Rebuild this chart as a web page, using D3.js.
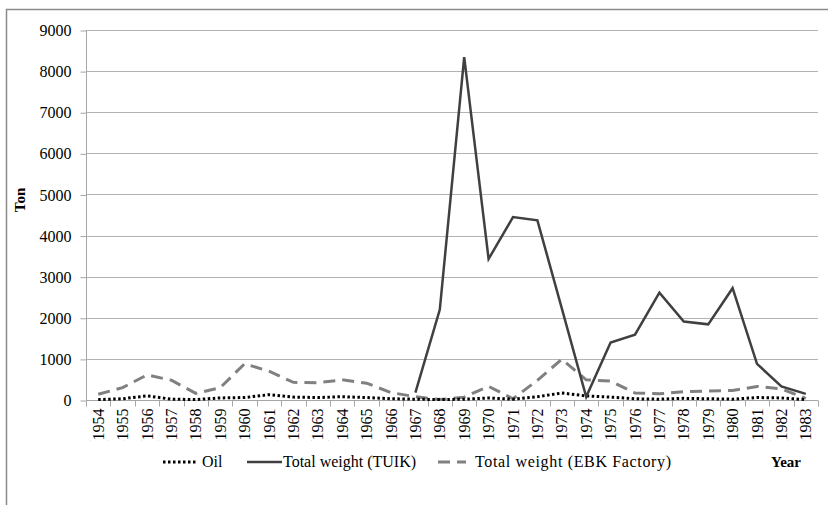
<!DOCTYPE html>
<html>
<head>
<meta charset="utf-8">
<script src="https://cdn.jsdelivr.net/npm/d3@7/dist/d3.min.js"></script>
<style>
  body { margin: 0; background: #fff; }
  svg { display: block; }
  svg text { font-family: 'Liberation Serif', 'Times New Roman', Times, 'DejaVu Serif', serif; }
</style>
</head>
<body>
<script>

var years = [1954, 1955, 1956, 1957, 1958, 1959, 1960, 1961, 1962, 1963,
             1964, 1965, 1966, 1967, 1968, 1969, 1970, 1971, 1972, 1973,
             1974, 1975, 1976, 1977, 1978, 1979, 1980, 1981, 1982, 1983];

var oil = [10, 30, 100, 20, 10, 50, 60, 130, 70, 60,
           80, 60, 30, 20, 10, 20, 50, 20, 80, 170,
           100, 70, 30, 20, 40, 30, 20, 60, 50, 10];

// TUIK series only starts in 1967
var tuik = [null, null, null, null, null, null, null, null, null, null,
            null, null, null, 180, 2200, 8340, 3430, 4450, 4370, 2230,
            80, 1400, 1590, 2610, 1910, 1840, 2720, 880, 330, 150];

var ebk = [140, 300, 610, 480, 160, 300, 880, 700, 430, 420,
           490, 410, 180, 80, 10, 70, 330, 30, 480, 990,
           490, 460, 170, 150, 200, 220, 230, 330, 270, 40];

var yTicks = [0, 1000, 2000, 3000, 4000, 5000, 6000, 7000, 8000, 9000];

var width = 828,
    height = 505,
    plotLeft = 86,
    plotRight = 818,
    plotTop = 30,
    plotBottom = 400;

var svg = d3.select("body").append("svg")
  .attr("width", width)
  .attr("height", height)
  .attr("font-family", "Liberation Serif");

// outer chart frame (runs off the right/bottom of the picture)
svg.append("rect")
  .attr("x", 6.5).attr("y", 9.5)
  .attr("width", 840).attr("height", 520)
  .attr("fill", "none")
  .attr("stroke", "#8a8a8a")
  .attr("stroke-width", 1.5);

// faint dotted line under the axis labels
svg.append("line")
  .attr("x1", 90).attr("x2", 818)
  .attr("y1", 440.5).attr("y2", 440.5)
  .attr("stroke", "#e0e0e0")
  .attr("stroke-dasharray", "1,16");

var x = d3.scaleBand().domain(years).range([plotLeft, plotRight]);
var y = d3.scaleLinear().domain([0, 9000]).range([plotBottom, plotTop]);

// horizontal grid
svg.append("g").selectAll("line")
  .data(yTicks.slice(1))
  .join("line")
  .attr("x1", plotLeft).attr("x2", plotRight)
  .attr("y1", d => Math.round(y(d)) + 0.5)
  .attr("y2", d => Math.round(y(d)) + 0.5)
  .attr("stroke", "#b3b3b3")
  .attr("stroke-width", 1);

var yAxis = svg.append("g")
  .attr("transform", `translate(${plotLeft + 0.5},0.5)`)
  .call(d3.axisLeft(y).tickValues(yTicks).tickSize(6).tickPadding(9).tickFormat(d3.format("d")));

yAxis.attr("font-family", null).attr("font-size", null);
yAxis.select(".domain").attr("stroke", "#a6a6a6").attr("d", `M0,${plotTop}V${plotBottom}`);
yAxis.selectAll(".tick line").attr("stroke", "#a6a6a6");
yAxis.selectAll(".tick text")
  .attr("font-size", 16)
  .attr("fill", "#000");

// x axis: ticks sit between the categories
var xg = svg.append("g").attr("transform", `translate(0,${plotBottom + 0.5})`);
xg.append("line")
  .attr("x1", plotLeft).attr("x2", plotRight)
  .attr("stroke", "#a6a6a6");
xg.selectAll(".tk")
  .data(years.concat(["end"]))
  .join("line")
  .attr("class", "tk")
  .attr("x1", (d, i) => Math.round(plotLeft + i * x.step()) + 0.5)
  .attr("x2", (d, i) => Math.round(plotLeft + i * x.step()) + 0.5)
  .attr("y1", 0).attr("y2", 6)
  .attr("stroke", "#a6a6a6");
xg.selectAll("text")
  .data(years)
  .join("text")
  .attr("transform", d => `translate(${x(d) + x.bandwidth() / 2 + 5.5},8) rotate(-90)`)
  .attr("text-anchor", "end")
  .attr("font-size", 16)
  .text(d => d);

// axis titles
svg.append("text")
  .attr("transform", "translate(25,200) rotate(-90)")
  .attr("text-anchor", "middle")
  .attr("font-size", 15)
  .attr("font-weight", "bold")
  .text("Ton");

svg.append("text")
  .attr("x", 786).attr("y", 467)
  .attr("text-anchor", "middle")
  .attr("font-size", 15)
  .attr("font-weight", "bold")
  .text("Year");

var series = [
  { name: "Oil", values: oil, stroke: "#000", width: 3, dash: "2.5,2.5" },
  { name: "Total weight (TUIK)", values: tuik, stroke: "#404040", width: 2.5, dash: null },
  { name: "Total weight (EBK Factory)", values: ebk, stroke: "#808080", width: 3, dash: "12,7" }
];

var line = d3.line()
  .defined(d => d.v !== null)
  .x(d => x(d.year) + x.bandwidth() / 2)
  .y(d => y(d.v));

// draw EBK first, then oil, then TUIK on top
[2, 0, 1].forEach(function (k) {
  var s = series[k];
  svg.append("path")
    .datum(years.map((yr, i) => ({ year: yr, v: s.values[i] })))
    .attr("fill", "none")
    .attr("stroke", s.stroke)
    .attr("stroke-width", s.width)
    .attr("stroke-linejoin", "miter")
    .attr("stroke-dasharray", s.dash)
    .attr("d", line);
});

// legend
var legendPos = [
  { x1: 163, x2: 198, tx: 202, len: null },
  { x1: 247, x2: 282, tx: 283, len: null },
  { x1: 438, x2: 466, tx: 475, len: 196 }
];

var lg = svg.append("g").selectAll("g")
  .data(series)
  .join("g");

lg.append("line")
  .attr("x1", (d, i) => legendPos[i].x1)
  .attr("x2", (d, i) => legendPos[i].x2)
  .attr("y1", 462).attr("y2", 462)
  .attr("stroke", d => d.stroke)
  .attr("stroke-width", d => d.width)
  .attr("stroke-dasharray", d => d.dash);

lg.append("text")
  .attr("x", (d, i) => legendPos[i].tx)
  .attr("y", 467)
  .attr("font-size", 16)
  .attr("textLength", (d, i) => legendPos[i].len)
  .attr("lengthAdjust", "spacing")
  .text(d => d.name);

</script>
</body>
</html>
